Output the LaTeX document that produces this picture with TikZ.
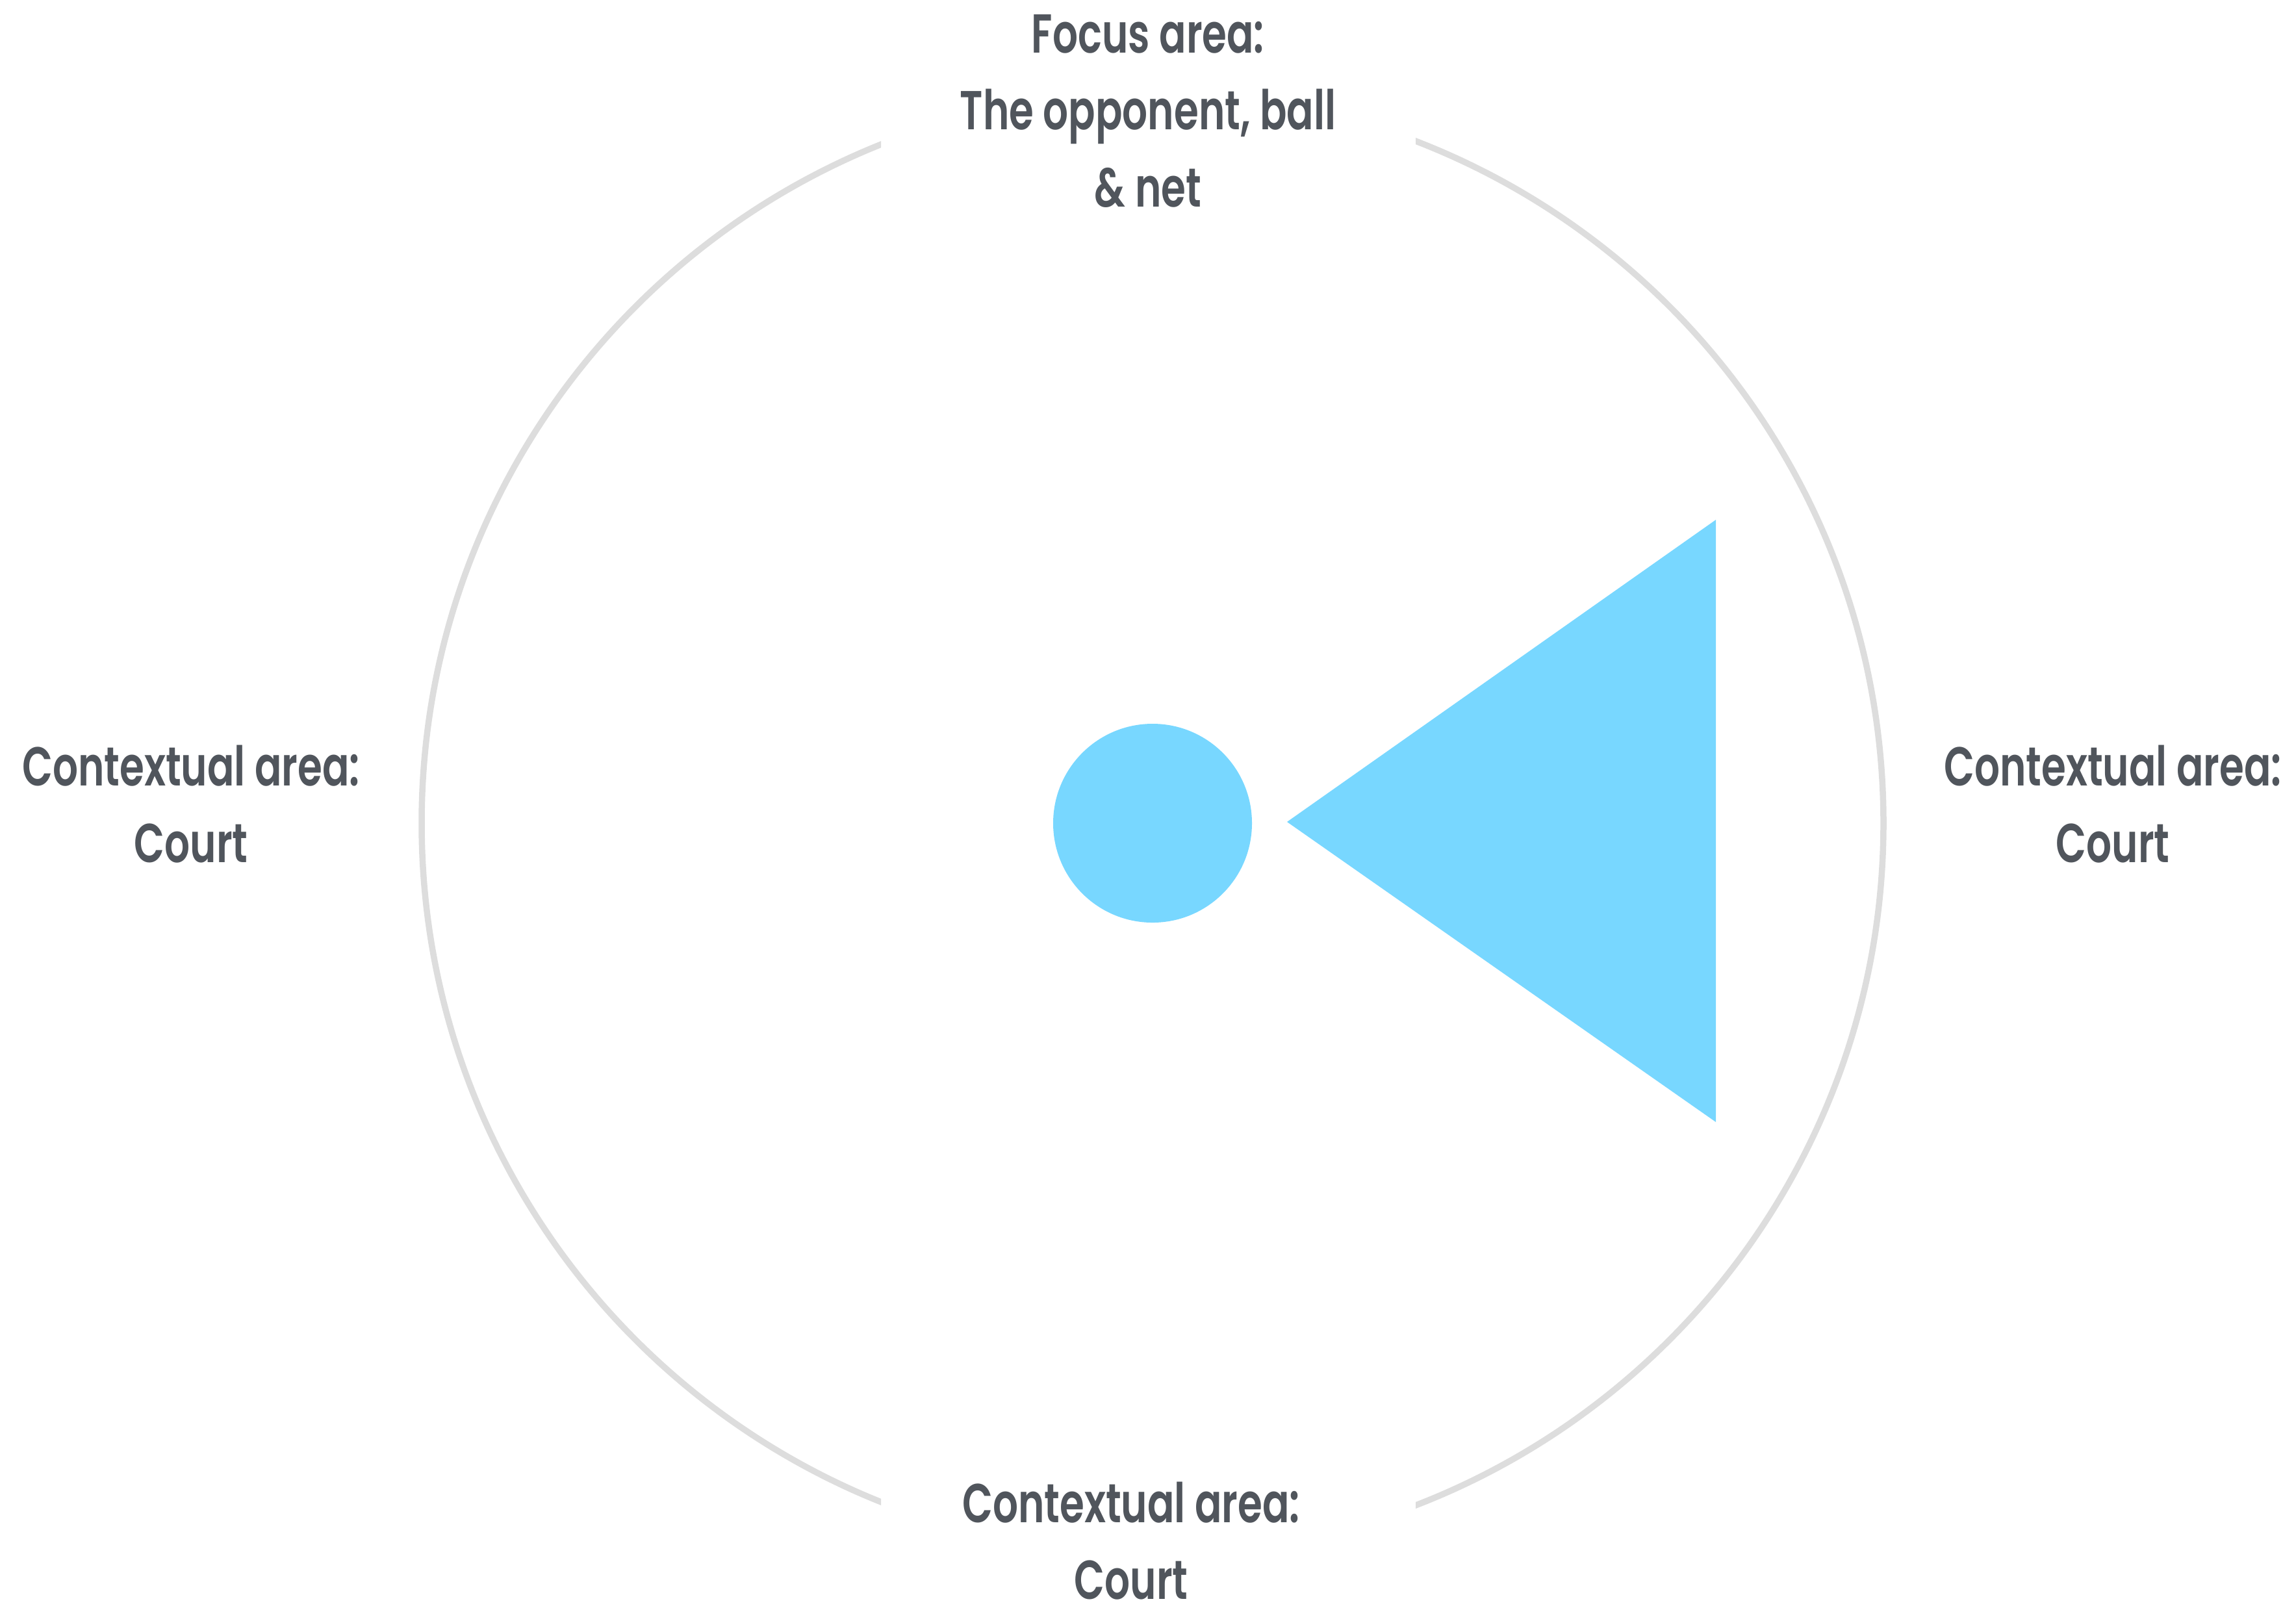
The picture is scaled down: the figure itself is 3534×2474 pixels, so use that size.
\documentclass[tikz,border=0pt]{standalone}
\usepackage{fontspec}
\setmainfont{Poppins SemiBold}
\definecolor{ringgray}{HTML}{DDDDDD}
\definecolor{skyblue}{HTML}{78D7FF}
\definecolor{labelgray}{HTML}{50555C}
\begin{document}
\begin{tikzpicture}[x=0.01cm,y=-0.01cm,
  lbl/.style={text=labelgray,align=center,inner sep=0pt,
    font=\fontsize{24pt}{33.6pt}\selectfont,xscale=0.725,transform shape}]
\useasboundingbox (0,0) rectangle (3534,2474);
\coordinate (c) at (1774,1267);
\begin{scope}
  \clip (0,0) rectangle (1356,2474) (2179,0) rectangle (3534,2474);
  \draw[ringgray,line width=2.7pt] (c) circle[radius=1125];
\end{scope}
\node[circle,fill=skyblue,minimum size=306*0.01cm,inner sep=0pt] (ball) at (c) {};
\fill[skyblue] (1981,1265) coordinate (apex) -- (2641,800) coordinate (tt) -- (2641,1727) coordinate (tb) -- cycle;
\node[lbl] (top) at (1767,171) {Focus area:\\The opponent, ball\\\& net};
\node[lbl] (left) at (294,1238) {Contextual area:\\Court};
\node[lbl] (right) at (3252,1238) {Contextual area:\\Court};
\node[lbl] (bottom) at (1741,2372) {Contextual area:\\Court};
\end{tikzpicture}
\end{document}
